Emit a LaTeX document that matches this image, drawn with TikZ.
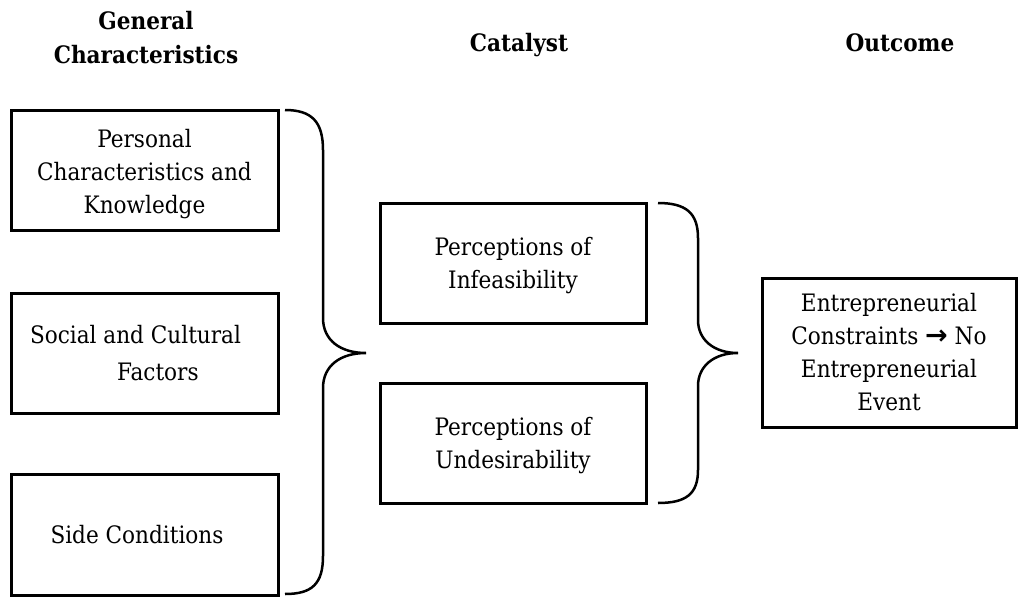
\documentclass[tikz,border=0pt]{standalone}
\usepackage{fontspec}
\setmainfont{DejaVu Serif}[FakeStretch=0.9]
\newfontfamily\arrowfont{DejaVu Sans}
\begin{document}
\begin{tikzpicture}[x=1pt,y=-1pt,
  box/.style={draw, line width=3pt, minimum width=267pt, minimum height=120pt,
    inner sep=0pt, align=center, font=\fontsize{24}{33}\selectfont},
  head/.style={inner sep=0pt, anchor=base, font=\fontsize{24}{33}\selectfont\bfseries},
  brace/.style={line width=2.5pt}]
\useasboundingbox (0,0) rectangle (1018,597);
% headers
\node[head] (h1a) at (146,30) {General};
\node[head] (h1b) at (146,63) {Characteristics};
\node[head] (h2) at (519,51) {Catalyst};
\node[head] (h3) at (900,51) {Outcome};
% left column
\node[box] (pc) at (144.5,170) {\rule{0pt}{27pt}Personal\\Characteristics and\\Knowledge};
\node[box, align=left, font=\fontsize{24}{37}\selectfont] (sc) at (144.5,353)
  {Social and Cultural\hspace*{18pt}\\\hspace*{87pt}Factors};
\node[box, minimum height=121pt] (sd) at (144.5,534.5) {Side Conditions\hspace*{15pt}};
% middle column
\node[box, minimum width=266pt] (inf) at (513,263) {\rule{0pt}{24pt}Perceptions of\\Infeasibility};
\node[box, minimum width=266pt] (und) at (513,443) {\rule{0pt}{24pt}Perceptions of\\Undesirability};
% right
\node[box, minimum width=254pt, minimum height=149pt] (out) at (889,352.5)
  {Entrepreneurial\\Constraints {\arrowfont\bfseries\fontsize{27}{33}\selectfont →} No\\Entrepreneurial\\Event};
% braces
\coordinate (b1top) at (285,110);
\coordinate (b1tip) at (366,353);
\coordinate (b1bot) at (285,594);
\draw[brace] (b1top) .. controls (312,110) and (323,122) .. (323,150) -- (323,318)
  .. controls (323,340) and (340,353) .. (b1tip)
  .. controls (340,353) and (323,366) .. (323,388) -- (323,556)
  .. controls (323,584) and (312,594) .. (b1bot);
\coordinate (b2top) at (658,203);
\coordinate (b2tip) at (738,353);
\coordinate (b2bot) at (658,503);
\draw[brace] (b2top) .. controls (686,203) and (698,213) .. (698,238) -- (698,320)
  .. controls (698,340) and (714,353) .. (b2tip)
  .. controls (714,353) and (698,366) .. (698,386) -- (698,470)
  .. controls (698,494) and (686,503) .. (b2bot);
\end{tikzpicture}
\end{document}
